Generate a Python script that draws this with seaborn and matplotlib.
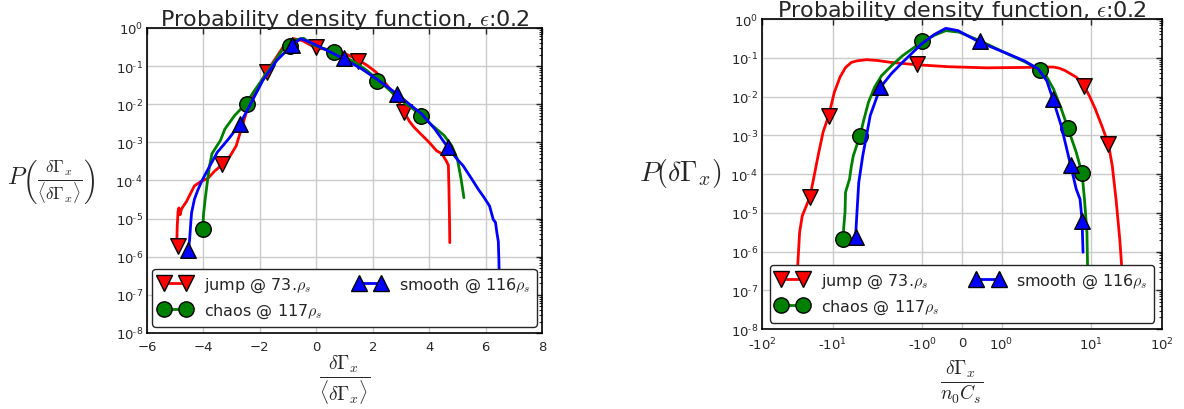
import numpy as np
import pandas as pd
import matplotlib
matplotlib.use("Agg")
import matplotlib.pyplot as plt
from matplotlib.lines import Line2D
from matplotlib.ticker import NullLocator
import seaborn as sns

# ---------------- data (x, log10 P) ----------------
series_labels = ["jump @ 73.$\\rho_s$", "chaos @ 117$\\rho_s$", "smooth @ 116$\\rho_s$"]
series_colors = ["#ff0000", "#008000", "#0000ff"]
series_markers = ["v", "o", "^"]

# Left panel: normalised flux
jump_l_x = [-4.95, -4.93, -4.9, -4.87, -4.83, -4.78, -4.72, -4.6, -4.5, -4.32, -4.1, -3.85, -3.6,
            -3.31, -3.05, -2.84, -2.6, -2.44, -2.1, -1.77, -1.4, -1.1, -0.8, -0.5, -0.2, 0.0,
            0.4, 0.78, 1.1, 1.51, 1.8, 2.12, 2.45, 2.79, 3.12, 3.3, 3.46, 3.7, 4.0, 4.26, 4.45,
            4.6, 4.68, 4.7, 4.72, 4.73]
jump_l_lp = [-5.75, -5.2, -4.8, -4.72, -4.9, -4.75, -4.68, -4.55, -4.4, -4.14, -4.03, -3.95, -3.75,
             -3.57, -3.35, -3.09, -2.5, -2.12, -1.6, -1.16, -0.75, -0.41, -0.28, -0.33, -0.45, -0.53,
             -0.56, -0.59, -0.7, -0.85, -0.98, -1.16, -1.45, -1.77, -2.21, -2.45, -2.6, -2.78, -3.0,
             -3.22, -3.3, -3.48, -3.6, -4.2, -5.0, -5.63]
jump_l_mx = [-4.9, -3.33, -1.75, 0.0, 1.49, 3.12]
jump_l_mlp = [-5.72, -3.56, -1.16, -0.5, -0.86, -2.2]

chaos_l_x = [-4.02, -4.0, -3.94, -3.85, -3.78, -3.7, -3.6, -3.4, -3.24, -2.9, -2.48, -2.2, -1.9,
             -1.5, -1.1, -0.8, -0.45, -0.1, 0.3, 0.64, 1.0, 1.45, 1.8, 2.18, 2.55, 2.92, 3.3, 3.73,
             4.1, 4.53, 4.8, 5.0, 5.13, 5.23]
chaos_l_lp = [-5.28, -4.9, -4.49, -3.96, -3.6, -3.3, -3.18, -2.95, -2.65, -2.3, -1.97, -1.65, -1.33,
              -0.9, -0.46, -0.32, -0.27, -0.45, -0.55, -0.63, -0.75, -0.94, -1.12, -1.36, -1.6,
              -1.86, -2.05, -2.30, -2.55, -2.82, -3.09, -3.44, -3.96, -4.45]
chaos_l_mx = [-4.0, -2.45, -0.93, 0.63, 2.16, 3.7]
chaos_l_mlp = [-5.27, -1.99, -0.47, -0.62, -1.38, -2.31]

smooth_l_x = [-4.54, -4.49, -4.45, -4.42, -4.32, -4.2, -4.05, -3.8, -3.51, -3.1, -2.71, -2.3, -1.9,
              -1.4, -0.87, -0.56, -0.2, 0.3, 0.98, 1.6, 2.12, 2.86, 3.3, 3.73, 4.2, 4.66, 5.0, 5.2,
              5.5, 5.74, 5.95, 6.14, 6.27, 6.35, 6.4, 6.45, 6.47, 6.48]
smooth_l_lp = [-5.85, -5.54, -5.1, -4.84, -4.49, -4.25, -4.0, -3.65, -3.26, -2.9, -2.52, -1.95, -1.38,
               -0.85, -0.46, -0.28, -0.38, -0.56, -0.81, -1.07, -1.33, -1.73, -2.0, -2.25, -2.65,
               -3.13, -3.45, -3.61, -3.95, -4.23, -4.45, -4.67, -5.02, -5.1, -5.37, -5.6, -6.07, -6.4]
smooth_l_mx = [-4.55, -2.71, -0.87, 0.98, 2.86, 4.66]
smooth_l_mlp = [-5.82, -2.52, -0.44, -0.8, -1.73, -3.13]

# Right panel: flux normalised by n0 Cs
jump_r_x = [-31.9, -31.3, -29.4, -27.0, -24.0, -21.1, -18.7, -16.0, -13.7, -11.4, -9.6, -8.3, -7.2,
            -6.2, -5.37, -4.2, -3.2, -2.24, -1.16, -0.36, 0.6, 1.75, 3.0, 3.8, 4.4, 5.1, 6.8, 8.3,
            9.6, 11.4, 14.4, 17.5, 19.8, 22.4, 25.3, 26.9, 27.7]
jump_r_lp = [-7.6, -6.37, -5.5, -5.08, -4.85, -4.6, -4.13, -3.5, -2.92, -2.49, -1.89, -1.5, -1.25,
             -1.12, -1.08, -1.05, -1.07, -1.12, -1.18, -1.23, -1.26, -1.25, -1.24, -1.24, -1.27,
             -1.33, -1.5, -1.72, -2.0, -2.32, -2.8, -3.23, -3.78, -4.65, -5.68, -6.37, -7.6]
jump_r_mx = [-21.1, -11.4, -1.16, 8.3, 17.5]
jump_r_mlp = [-4.6, -2.5, -1.17, -1.73, -3.23]

chaos_r_x = [-7.67, -7.5, -7.3, -7.2, -6.5, -6.2, -5.9, -4.97, -4.5, -4.0, -3.4, -2.85, -2.2, -1.67,
             -1.0, -0.7, -0.41, -0.07, 0.45, 1.07, 1.8, 2.71, 3.2, 3.8, 4.6, 5.5, 6.8, 7.9, 8.4,
             8.95, 9.1, 9.2]
chaos_r_lp = [-5.66, -5.3, -4.99, -4.47, -4.13, -3.8, -3.53, -3.01, -2.6, -2.15, -1.75, -1.46, -1.2,
              -0.95, -0.58, -0.42, -0.3, -0.34, -0.56, -0.86, -1.1, -1.32, -1.5, -1.81, -2.3, -2.82,
              -3.44, -3.98, -4.65, -5.5, -6.37, -7.2]
chaos_r_mx = [-7.67, -4.97, -1.0, 2.71, 5.5, 7.9]
chaos_r_mlp = [-5.67, -3.01, -0.57, -1.32, -2.8, -3.97]

smooth_r_x = [-5.57, -5.37, -5.13, -4.63, -3.82, -2.94, -2.2, -1.67, -1.03, -0.7, -0.41, -0.1, 0.45,
              1.07, 1.8, 2.57, 3.2, 3.73, 4.62, 5.9, 6.8, 7.5, 7.9, 8.1]
smooth_r_lp = [-5.63, -4.99, -4.22, -3.53, -2.49, -1.76, -1.4, -1.12, -0.65, -0.4, -0.24, -0.3, -0.6,
               -0.86, -1.08, -1.29, -1.6, -2.06, -2.75, -3.78, -4.39, -4.65, -5.2, -6.02]
smooth_r_mx = [-5.57, -2.94, 0.45, 3.73, 5.9, 7.9]
smooth_r_mlp = [-5.63, -1.76, -0.58, -2.06, -3.78, -5.2]

# ticks
left_xticks = [-6, -4, -2, 0, 2, 4, 6, 8]
y_exponents = [0, -1, -2, -3, -4, -5, -6, -7, -8]
y_tick_labels = [r"$\mathdefault{10^{0}}$"] + [r"$\mathdefault{10^{\text{-}%d}}$" % k for k in range(1, 9)]
right_xticks = [-100, -10, -1, 0, 1, 10, 100]
right_xtick_labels = [r"-$\mathdefault{10^{2}}$", r"-$\mathdefault{10^{1}}$", r"-$\mathdefault{10^{0}}$",
                      "0", r"$\mathdefault{10^{0}}$", r"$\mathdefault{10^{1}}$", r"$\mathdefault{10^{2}}$"]

title_text = "Probability density function, $\\epsilon$:0.2"

# ---------------- style ----------------
sns.set_style("white")
plt.rcParams["font.family"] = ["DejaVu Sans"]
plt.rcParams["mathtext.fontset"] = "cm"
plt.rcParams["axes.unicode_minus"] = True

fig = plt.figure(figsize=(11.84, 4.10), dpi=100)
ax1 = fig.add_axes([0.1242, 0.1854, 0.3336, 0.7439])
ax2 = fig.add_axes([0.6436, 0.1951, 0.3378, 0.7561])

# custom symmetric-log-like scale for the right panel
L_HALF = 39.5 / 89.5
OUTER = 70.6 / 89.5


def fwd(x):
    x = np.asarray(x, dtype=float)
    a = np.abs(x)
    s = np.sign(x)
    a_safe = np.maximum(a, 1e-300)
    out = np.where(a <= 1, a * L_HALF,
                   np.where(a <= 10, L_HALF + np.log10(a_safe),
                            L_HALF + 1 + OUTER * np.log10(a_safe / 10)))
    return s * out


def inv(y):
    y = np.asarray(y, dtype=float)
    b = np.abs(y)
    s = np.sign(y)
    out = np.where(b <= L_HALF, b / L_HALF,
                   np.where(b <= L_HALF + 1, 10 ** (b - L_HALF),
                            10 * 10 ** ((b - L_HALF - 1) / OUTER)))
    return s * out


panels = [
    (ax1, [(jump_l_x, jump_l_lp, jump_l_mx, jump_l_mlp),
           (chaos_l_x, chaos_l_lp, chaos_l_mx, chaos_l_mlp),
           (smooth_l_x, smooth_l_lp, smooth_l_mx, smooth_l_mlp)]),
    (ax2, [(jump_r_x, jump_r_lp, jump_r_mx, jump_r_mlp),
           (chaos_r_x, chaos_r_lp, chaos_r_mx, chaos_r_mlp),
           (smooth_r_x, smooth_r_lp, smooth_r_mx, smooth_r_mlp)]),
]

ax2.set_xscale("function", functions=(fwd, inv))

for ax, data in panels:
    ax.set_yscale("log")
    for i, (lx, llp, mx, mlp) in enumerate(data):
        dfl = pd.DataFrame({"x": lx, "p": 10.0 ** np.array(llp)})
        dfm = pd.DataFrame({"x": mx, "p": 10.0 ** np.array(mlp)})
        sns.lineplot(data=dfl, x="x", y="p", ax=ax, color=series_colors[i], lw=2,
                     sort=False, estimator=None, zorder=2 + i)
        sns.scatterplot(data=dfm, x="x", y="p", ax=ax, color=series_colors[i],
                        marker=series_markers[i], s=125, edgecolor="k", linewidth=1,
                        zorder=2.5 + i, legend=False)

for ax in (ax1, ax2):
    ax.set_ylim(1e-8, 1)
    ax.set_yticks([10.0 ** k for k in y_exponents])
    ax.set_yticklabels(y_tick_labels)
    ax.grid(True, which="major", color="#cbcbcb", lw=1, ls="-")
    ax.set_axisbelow(True)
    ax.tick_params(which="both", direction="in", top=True, right=True, labelsize=9.5)
    ax.tick_params(axis="x", which="major", pad=5)
    ax.tick_params(axis="y", which="major", pad=3)
    ax.tick_params(which="major", length=4, width=1)
    ax.tick_params(which="minor", length=2, width=0.8)
    ax.xaxis.set_minor_locator(NullLocator())
    for sp in ax.spines.values():
        sp.set_color("k")
        sp.set_linewidth(1.2)
    ax.set_title(title_text, fontsize=16, pad=2)
    handles = [Line2D([0], [0], color=series_colors[i], lw=2, marker=series_markers[i],
                      markersize=11, markeredgecolor="k", markeredgewidth=1) for i in range(3)]
    leg = ax.legend(handles, series_labels, loc="lower center", ncol=2, numpoints=2,
                    fontsize=11.5, fancybox=True, framealpha=1, borderaxespad=0.4,
                    columnspacing=2.0, handlelength=2.0)
    leg.get_frame().set_edgecolor("0.15")
    leg.get_frame().set_linewidth(1.0)

ax1.set_xlim(-6, 8)
ax1.set_xticks(left_xticks)
ax2.set_xlim(-100, 100)
ax2.set_xticks(right_xticks)
ax2.set_xticklabels(right_xtick_labels)

ax1.set_xlabel(r"$\frac{\delta\Gamma_x}{\langle\delta\Gamma_x\rangle}$", fontsize=20)
ax1.xaxis.set_label_coords(0.5, -0.152)
ax1.xaxis.label.set_va("center")
ax1.set_ylabel(r"$P\left(\frac{\delta\Gamma_x}{\langle\delta\Gamma_x\rangle}\right)$",
               fontsize=17.5, rotation=0, ha="center", va="center")
ax1.yaxis.set_label_coords(-0.243, 0.5)

ax2.set_xlabel(r"$\frac{\delta\Gamma_x}{n_0 C_s}$", fontsize=20)
ax2.xaxis.set_label_coords(0.5, -0.168)
ax2.xaxis.label.set_va("center")
ax2.set_ylabel(r"$P(\delta\Gamma_x)$", fontsize=20, rotation=0, ha="center", va="center")
ax2.yaxis.set_label_coords(-0.205, 0.506)

fig.savefig("out.png", dpi=100)
